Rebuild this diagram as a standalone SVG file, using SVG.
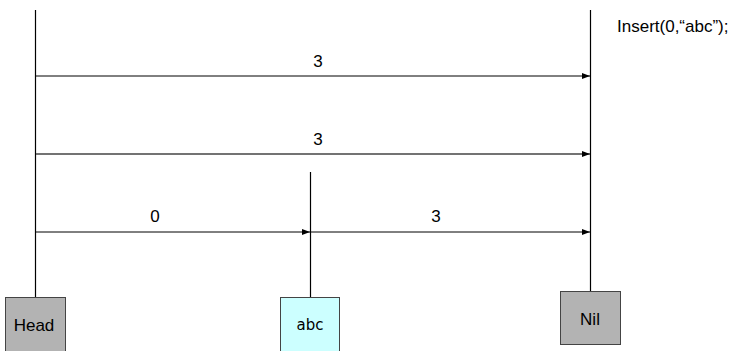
<svg xmlns="http://www.w3.org/2000/svg" width="735" height="351" viewBox="0 0 735 351">
  <style>
    .lane { stroke: #000; stroke-width: 1.2; fill: none; }
    .link { stroke: #000; stroke-width: 1; fill: none; marker-end: url(#head); }
    .box { stroke: #444; stroke-width: 1; }
    .gray { fill: #b3b3b3; }
    .cyan { fill: #ccffff; }
    .lbl { font-family: "Liberation Sans", Arial, sans-serif; font-size: 17px; fill: #000; }
    .code { font-family: "Comic Sans MS", "DejaVu Sans", sans-serif; font-size: 15px; fill: #000; }
  </style>
  <defs>
    <marker id="head" viewBox="0 0 8 6" refX="8" refY="3" markerWidth="8" markerHeight="6" markerUnits="userSpaceOnUse" orient="auto">
      <path d="M0,0 L8,3 L0,6 Z" fill="#000"/>
    </marker>
  </defs>

  <text class="lbl" x="617" y="32">Insert(0,“abc”);</text>

  <g id="connectors">
    <line class="lane" x1="35.5" y1="10" x2="35.5" y2="297"/>
    <line class="lane" x1="310.5" y1="172" x2="310.5" y2="297"/>
    <line class="lane" x1="590.5" y1="10" x2="590.5" y2="291"/>
    <line class="link" x1="36" y1="76" x2="590" y2="76"/>
    <line class="link" x1="36" y1="154" x2="590" y2="154" style="stroke:#444;stroke-width:1.3"/>
    <line class="link" x1="36" y1="232" x2="310" y2="232"/>
    <line class="link" x1="311" y1="232" x2="590" y2="232"/>
    <text class="lbl" x="318" y="67" text-anchor="middle">3</text>
    <text class="lbl" x="318" y="145" text-anchor="middle">3</text>
    <text class="lbl" x="155" y="222" text-anchor="middle">0</text>
    <text class="lbl" x="436" y="222" text-anchor="middle">3</text>
  </g>

  <g id="head-node">
    <rect class="box gray" x="5.5" y="297.5" width="60" height="55"/>
    <text class="lbl" x="34" y="331" text-anchor="middle">Head</text>
  </g>

  <g id="abc-node">
    <rect class="box cyan" x="280.5" y="297.5" width="59" height="55"/>
    <text class="code" x="310" y="330" text-anchor="middle">abc</text>
  </g>

  <g id="nil-node">
    <rect class="box gray" x="560.5" y="291.5" width="60" height="53"/>
    <text class="lbl" x="590" y="325" text-anchor="middle">Nil</text>
  </g>
</svg>
